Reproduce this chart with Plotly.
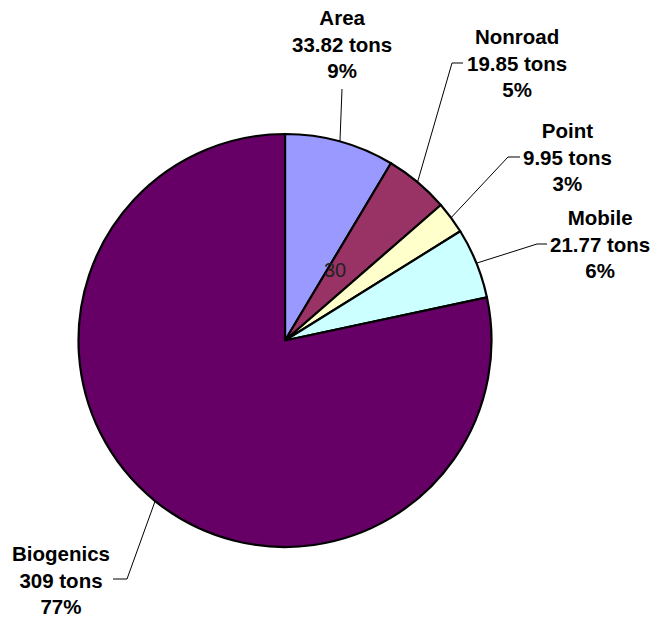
import math
import plotly.graph_objects as go

# ---- data ----
categories = ["Area", "Nonroad", "Point", "Mobile", "Biogenics"]
tons = [33.82, 19.85, 9.95, 21.77, 309]
ton_labels = ["33.82 tons", "19.85 tons", "9.95 tons", "21.77 tons", "309 tons"]
pct_labels = ["9%", "5%", "3%", "6%", "77%"]
colors = ["#9999FF", "#993366", "#FFFFCC", "#CCFFFF", "#660066"]
stray_text = "30"

# ---- layout (pixels) ----
W, H = 655, 620
CX, CY, R = 285, 340.5, 206.5
# label block centre (middle line), and leader elbow / end points
label_pos = {
    "Area": (342, 44),
    "Nonroad": (517, 63),
    "Point": (567, 157),
    "Mobile": (600, 244),
    "Biogenics": (61, 580),
}
leader_pts = {
    "Area": [(342, 89)],
    "Nonroad": [(452, 63), (463, 63)],
    "Point": [(508, 157), (520, 157)],
    "Mobile": [(537, 244), (547, 244)],
    "Biogenics": [(127, 579), (113, 579)],
}


def px(x, y):
    return x / W, 1 - y / H


fig = go.Figure()
fig.add_trace(go.Pie(
    labels=categories,
    values=tons,
    sort=False,
    direction="clockwise",
    rotation=0,
    marker=dict(colors=colors, line=dict(color="black", width=2.2)),
    textinfo="none",
    hoverinfo="label+value+percent",
    showlegend=False,
    domain=dict(x=[(CX - R) / W, (CX + R) / W],
                y=[1 - (CY + R) / H, 1 - (CY - R) / H]),
))

total = sum(tons)
cum = 0.0
shapes = []
annotations = []
for cat, v, tl, pl in zip(categories, tons, ton_labels, pct_labels):
    mid = (cum + v / 2) / total * 2 * math.pi
    cum += v
    ax, ay = CX + R * math.sin(mid), CY - R * math.cos(mid)
    pts = [(ax, ay)] + leader_pts[cat]
    for (x0, y0), (x1, y1) in zip(pts[:-1], pts[1:]):
        p0, p1 = px(x0, y0), px(x1, y1)
        shapes.append(dict(type="line", xref="paper", yref="paper",
                           x0=p0[0], y0=p0[1], x1=p1[0], y1=p1[1],
                           line=dict(color="black", width=1)))
    lx, ly = px(*label_pos[cat])
    annotations.append(dict(
        x=lx, y=ly, xref="paper", yref="paper", showarrow=False,
        xanchor="center", yanchor="middle", align="center",
        text=f"{cat}<br>{tl}<br>{pl}",
        font=dict(family="Liberation Sans, Arial, sans-serif", size=20.5,
                  color="black", weight="bold"),
    ))

sx, sy = px(335, 270)
annotations.append(dict(
    x=sx, y=sy, xref="paper", yref="paper", showarrow=False,
    xanchor="center", yanchor="middle", text=stray_text,
    font=dict(family="Liberation Sans, Arial, sans-serif", size=20, color="#222222"),
))

fig.update_layout(
    width=W, height=H,
    margin=dict(l=0, r=0, t=0, b=0),
    paper_bgcolor="white", plot_bgcolor="white",
    shapes=shapes, annotations=annotations,
)

fig.write_html("out.html",
               config={"displayModeBar": False},
               post_script="document.body.style.margin='0';document.body.style.padding='0';")
